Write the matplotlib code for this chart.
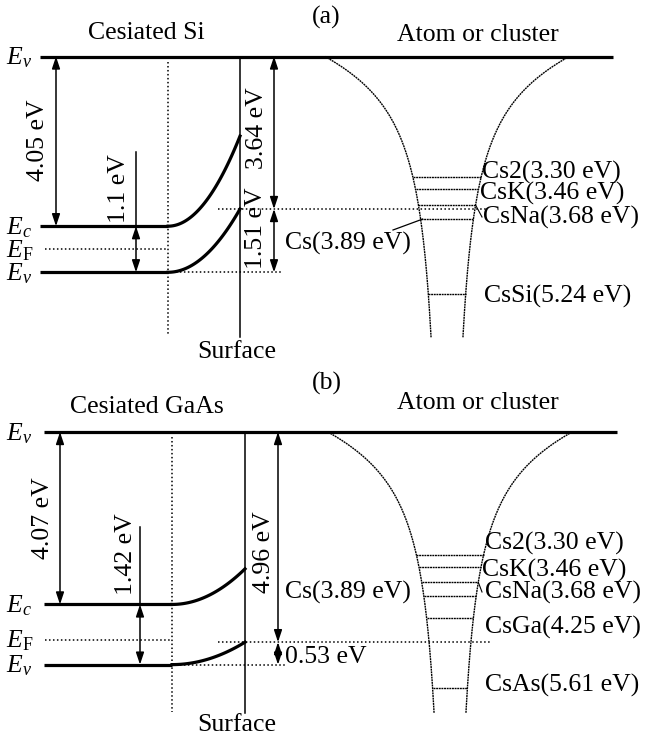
import numpy as np
import matplotlib
matplotlib.use("Agg")
import matplotlib.pyplot as plt
from matplotlib.patches import FancyArrowPatch

plt.rcParams["font.family"] = ["Liberation Serif", "DejaVu Serif"]
plt.rcParams["mathtext.fontset"] = "custom"
plt.rcParams["mathtext.rm"] = "Liberation Serif"
plt.rcParams["mathtext.it"] = "Liberation Serif:italic"

# ---------------- energies (eV below the vacuum level) ----------------
panel_tags = ["(a)", "(b)"]
materials = ["Cesiated Si", "Cesiated GaAs"]
electron_affinity = [4.05, 4.07]        # vacuum -> bulk Ec
band_gap = [1.1, 1.42]                  # bulk Ec -> bulk Ev
ev_surface = [3.64, 4.96]               # vacuum -> Ev at the surface
ev_bending = [1.51, 0.53]               # surface Ev -> bulk Ev
ec_surface = [1.9, 3.23]                # vacuum -> Ec at the surface
fermi_bulk = [4.6, 4.9]                 # vacuum -> bulk EF

level_names = [["Cs2", "CsK", "CsNa", "Cs", "CsSi"],
               ["Cs2", "CsK", "CsNa", "Cs", "CsGa", "CsAs"]]
level_values = [[3.30, 3.46, 3.68, 3.89, 5.24],
                [3.30, 3.46, 3.68, 3.89, 4.25, 5.61]]

# ---------------- layout ----------------
FIG_W, FIG_H = 646, 739
FS = 18.5
panel_rows = [(0, 370), (370, 739)]
vac_px = [56.5, 62.0]                   # vacuum line position inside each panel
px_per_ev = [41.9, 42.37]
# level scale inside the well: pixel = offset + gain * ln(E)
well_scale = [(-124.6, 253.0), (-113.5, 250.0)]
well_center = [447.0, 450.0]
WELL_H_TOP = 122.0
WELL_DEPTH = 281.0
WELL_K, WELL_A = 0.252, 4663.0

lay = [dict(x0=40, xb=168, xs=240, xa1=56, xa2=136, xa3=274, xend=613,
            ef_x0=45, fl_x1=487, ev_x1=283, dot_top=62, dot_bot=335,
            surf_bot=337, gap_top=2.28),
       dict(x0=44, xb=172, xs=245, xa1=60, xa2=140, xa3=278, xend=617,
            ef_x0=45, fl_x1=492, ev_x1=285, dot_top=67, dot_bot=342,
            surf_bot=343, gap_top=2.24)]

text_pos = [
    dict(tag=(326, 17), mat=(146, 33), atom=(478, 35), ea=(38, 140),
         gap=(119, 189), v1=(257, 128), v2=(256, 228), surf=(237, 352),
         labels=[(482, 172), (480, 193), (483, 217), (285, 243), (484, 296)]),
    dict(tag=(327, 13), mat=(147, 37), atom=(478, 33), ea=(43, 148),
         gap=(126, 184), v1=(264, 182), v2=(285, 287), surf=(237, 355),
         labels=[(485, 173), (482, 200), (485, 222), (285, 222), (485, 257),
                 (485, 315)]),
]

THICK = 2.3
THIN = 1.1
DOT = (0, (1.0, 1.6))
FINE = (0, (1.4, 0.5))

fig = plt.figure(figsize=(FIG_W / 100, FIG_H / 100), dpi=100)


def arrow(ax, x, e1, e2):
    ax.add_patch(FancyArrowPatch((x, e1), (x, e2),
                                 arrowstyle="<|-|>,head_length=0.6,head_width=0.2",
                                 mutation_scale=12, lw=THIN, color="k",
                                 shrinkA=0, shrinkB=0))


# well profile: depth (px below vacuum) as a function of half width (px)
hw_grid = np.linspace(WELL_H_TOP, 14.0, 600)
depth_grid = WELL_K * (WELL_H_TOP - hw_grid) + WELL_A * (1.0 / hw_grid - 1.0 / WELL_H_TOP)


def half_width(depth_px):
    return np.interp(depth_px, depth_grid, hw_grid)


for i in range(2):
    top, bot = panel_rows[i]
    ph = bot - top
    rect = [0, 1 - bot / FIG_H, 1, ph / FIG_H]
    vac, ppe = vac_px[i], px_per_ev[i]
    L = lay[i]
    T = text_pos[i]
    w_off, w_gain = well_scale[i]

    ax = fig.add_axes(rect)
    ax.set_xlim(0, FIG_W)
    ax.set_ylim((ph - vac) / ppe, -vac / ppe)
    axw = fig.add_axes(rect)
    axw.set_yscale("log")
    axw.set_xlim(0, FIG_W)
    axw.set_ylim(np.exp((ph - w_off) / w_gain), np.exp(-w_off / w_gain))
    axl = fig.add_axes(rect)
    axl.set_xlim(0, FIG_W)
    axl.set_ylim(ph, 0)
    for a in (ax, axw, axl):
        a.axis("off")
        a.patch.set_visible(False)

    def px_to_ev(p):
        return (p - vac) / ppe

    ea = electron_affinity[i]
    ev_bulk = ea + band_gap[i]
    evs = ev_surface[i]
    ecs = ec_surface[i]

    # vacuum level
    ax.plot([L["x0"], L["xend"]], [0, 0], color="k", lw=THICK, solid_capstyle="butt")
    # bulk bands
    ax.plot([L["x0"], L["xb"]], [ea, ea], color="k", lw=THICK, solid_capstyle="butt")
    ax.plot([L["x0"], L["xb"]], [ev_bulk, ev_bulk], color="k", lw=THICK,
            solid_capstyle="butt")
    ax.plot([L["ef_x0"], L["xb"]], [fermi_bulk[i]] * 2, color="k", lw=THIN, ls=DOT)
    # band bending towards the surface
    xx = np.linspace(L["xb"], L["xs"], 60)
    t = (xx - L["xb"]) / (L["xs"] - L["xb"])
    ax.plot(xx, ea - (ea - ecs) * t ** 2, color="k", lw=THICK)
    ax.plot(xx, ev_bulk - (ev_bulk - evs) * t ** 2, color="k", lw=THICK)
    # depletion edge and surface
    ax.plot([L["xb"], L["xb"]], [px_to_ev(L["dot_top"]), px_to_ev(L["dot_bot"])],
            color="k", lw=THIN, ls=DOT)
    ax.plot([L["xs"], L["xs"]], [0, px_to_ev(L["surf_bot"])], color="k", lw=THIN)
    # reference dotted lines
    ax.plot([218, L["fl_x1"]], [evs, evs], color="k", lw=THIN, ls=DOT)
    ax.plot([L["xb"], L["ev_x1"]], [ev_bulk, ev_bulk], color="k", lw=THIN, ls=DOT)

    # energy arrows
    arrow(ax, L["xa1"], 0, ea)
    ax.plot([L["xa2"], L["xa2"]], [L["gap_top"], ea], color="k", lw=THIN)
    arrow(ax, L["xa2"], ea, ev_bulk)
    arrow(ax, L["xa3"], 0, evs)
    arrow(ax, L["xa3"], evs, evs + ev_bending[i])

    # potential well of the adsorbed atom / cluster
    c = well_center[i]
    d = np.linspace(0, WELL_DEPTH, 300)
    h = half_width(d)
    ax.plot(c - h, d / ppe, color="k", lw=1.0, ls=FINE)
    ax.plot(c + h, d / ppe, color="k", lw=1.0, ls=FINE)

    # levels inside the well
    wall = {}
    for name, val in zip(level_names[i], level_values[i]):
        p = w_off + w_gain * np.log(val)
        hw = half_width(p - vac)
        wall[name] = (c - hw, c + hw, p)
        axw.plot([c - hw, c + hw], [val, val], color="k", lw=1.0, ls=FINE)

    # texts
    axl.text(*T["tag"], panel_tags[i], fontsize=FS, ha="center", va="center")
    axl.text(*T["mat"], materials[i], fontsize=FS, ha="center", va="center")
    axl.text(*T["atom"], "Atom or cluster", fontsize=FS, ha="center", va="center")
    for lab, e in [(r"$E_v$", 0), (r"$E_c$", ea), (r"$E_\mathrm{F}$", fermi_bulk[i]),
                   (r"$E_v$", ev_bulk)]:
        axl.text(6, vac + ppe * e + 8, lab, fontsize=FS, ha="left", va="baseline")
    axl.text(*T["ea"], f"{ea:.2f} eV", fontsize=FS, rotation=90,
             ha="center", va="center")
    gap_txt = f"{band_gap[i]:.1f} eV" if i == 0 else f"{band_gap[i]:.2f} eV"
    axl.text(*T["gap"], gap_txt, fontsize=FS, rotation=90, ha="center", va="center")
    axl.text(*T["v1"], f"{evs:.2f} eV", fontsize=FS, rotation=90,
             ha="center", va="center")
    if i == 0:
        axl.text(*T["v2"], f"{ev_bending[i]:.2f} eV", fontsize=FS, rotation=90,
                 ha="center", va="center")
    else:
        axl.text(*T["v2"], f"{ev_bending[i]:.2f} eV", fontsize=FS,
                 ha="left", va="center")
    axl.text(*T["surf"], "Surface", fontsize=FS, ha="center", va="center")

    for (name, val), (lx, ly) in zip(zip(level_names[i], level_values[i]), T["labels"]):
        axl.text(lx, ly, f"{name}({val:.2f} eV)", fontsize=FS, ha="left", va="center")

    # leader lines
    xl, xr, p = wall["CsNa"]
    axl.plot([482, xr], [T["labels"][2][1], p], color="k", lw=0.8)
    if i == 0:
        xl, xr, p = wall["Cs"]
        axl.plot([393, xl + 2], [230, p], color="k", lw=0.9)

fig.savefig("out.png", dpi=100)
